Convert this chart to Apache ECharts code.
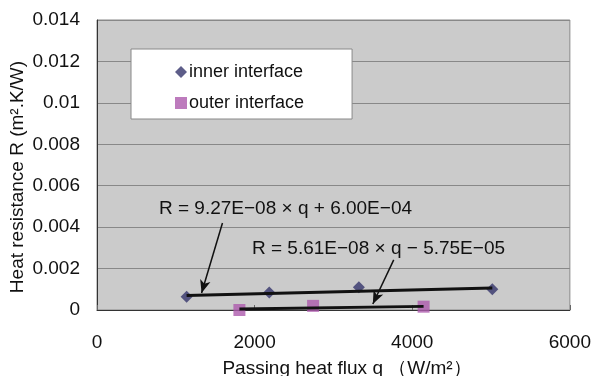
<!DOCTYPE html>
<html>
<head>
<meta charset="utf-8">
<script src="https://cdn.jsdelivr.net/npm/echarts@6/dist/echarts.min.js"></script>
<style>
  html, body { margin: 0; padding: 0; background: #fff; }
  #main { width: 594px; height: 376px; }
</style>
</head>
<body>
<div id="main"></div>
<script>
// 读图得到的数据
var innerQ = [1137, 2186, 3323, 5016];
var innerR = [0.00064, 0.00085, 0.0011, 0.0010];
var outerQ = [1807, 2742, 4144];
var outerR = [0.0000, 0.0002, 0.00016];
// 趋势线端点
var innerTrendQ = [1137, 5016];
var innerTrendR = [0.000705, 0.001065];
var outerTrendQ = [1807, 4144];
var outerTrendR = [0.000044, 0.000175];
// 刻度标签
var xTickLabels = ['0', '2000', '4000', '6000'];
var yTickLabels = ['0', '0.002', '0.004', '0.006', '0.008', '0.01', '0.012', '0.014'];
var seriesNames = ['inner interface', 'outer interface'];
var eqInner = 'R = 9.27E\u221208 \u00d7 q + 6.00E\u221204';
var eqOuter = 'R = 5.61E\u221208 \u00d7 q \u2212 5.75E\u221205';

function pairs(xs, ys) {
    var out = [];
    for (var i = 0; i < xs.length; i++) out.push([xs[i], ys[i]]);
    return out;
}

var font = 'Liberation Sans, Arial, sans-serif';
var myChart = echarts.init(document.getElementById('main'));
myChart.setOption({
    animation: false,
    backgroundColor: '#fff',
    textStyle: { fontFamily: font },
    grid: {
        left: 97, top: 20, right: 22, bottom: 66,
        show: true,
        backgroundColor: '#cbcbcb',
        borderColor: '#888',
        borderWidth: 1
    },
    legend: {
        data: [
            { name: seriesNames[0], icon: 'diamond' },
            { name: seriesNames[1], icon: 'rect' }
        ],
        orient: 'vertical',
        left: 131,
        top: 49,
        padding: [14, 48, 7, 44],
        itemWidth: 12,
        itemHeight: 12,
        itemGap: 13,
        backgroundColor: '#fff',
        borderColor: '#888',
        borderWidth: 1,
        textStyle: { fontSize: 18, color: '#111', fontFamily: font, padding: [5, 0, 0, -3] }
    },
    xAxis: {
        type: 'value',
        min: 0, max: 6000, interval: 2000,
        axisLine: { show: true, onZero: false, lineStyle: { color: '#333', width: 1 } },
        axisTick: { show: true, inside: true, length: 5, lineStyle: { color: '#666' } },
        axisLabel: {
            margin: 23, fontSize: 19, color: '#111',
            formatter: function (v) { return xTickLabels[Math.round(v / 2000)]; }
        },
        splitLine: { show: false }
    },
    yAxis: {
        type: 'value',
        min: 0, max: 0.014, interval: 0.002,
        axisLine: { show: true, lineStyle: { color: '#333', width: 1 } },
        axisTick: { show: false },
        axisLabel: {
            margin: 17, fontSize: 19, color: '#111',
            formatter: function (v) { return yTickLabels[Math.round(v / 0.002)]; }
        },
        splitLine: { show: true, lineStyle: { color: '#888', width: 1 } }
    },
    graphic: [
        {
            type: 'text', left: 159, top: 199,
            style: { text: eqInner, fill: '#111', font: '19px ' + font }
        },
        {
            type: 'text', left: 252, top: 239,
            style: { text: eqOuter, fill: '#111', font: '19px ' + font }
        },
        {
            type: 'text', x: 18, y: 177, rotation: Math.PI / 2,
            style: {
                text: 'Heat resistance R (m\u00b2.K/W)', font: '19px ' + font,
                fill: '#111', align: 'center', verticalAlign: 'middle'
            }
        },
        {
            type: 'text', x: 347, y: 369,
            style: {
                text: 'Passing heat flux q \uff08W/m\u00b2\uff09', font: '19px ' + font,
                fill: '#111', align: 'center', verticalAlign: 'middle'
            }
        }
    ],
    series: [
        {
            name: 'inner trend',
            type: 'line',
            data: pairs(innerTrendQ, innerTrendR),
            symbol: 'none',
            lineStyle: { color: '#111', width: 3 },
            z: 3,
            markLine: {
                silent: true,
                symbol: ['none', 'arrow'],
                symbolSize: [8, 13],
                label: { show: false },
                lineStyle: { color: '#111', width: 1.5, type: 'solid' },
                data: [[{ coord: [1592, 0.0042] }, { coord: [1327, 0.00082] }]]
            }
        },
        {
            name: 'outer trend',
            type: 'line',
            data: pairs(outerTrendQ, outerTrendR),
            symbol: 'none',
            lineStyle: { color: '#111', width: 3 },
            z: 3,
            markLine: {
                silent: true,
                symbol: ['none', 'arrow'],
                symbolSize: [8, 13],
                label: { show: false },
                lineStyle: { color: '#111', width: 1.5, type: 'solid' },
                data: [[{ coord: [3765, 0.00242] }, { coord: [3500, 0.00029] }]]
            }
        },
        {
            name: seriesNames[0],
            type: 'scatter',
            data: pairs(innerQ, innerR),
            symbol: 'diamond',
            symbolSize: 12,
            itemStyle: { color: '#34346c' },
            z: 2
        },
        {
            name: seriesNames[1],
            type: 'scatter',
            data: pairs(outerQ, outerR),
            symbol: 'rect',
            symbolSize: 12,
            itemStyle: { color: '#ad5aad' },
            z: 2
        }
    ]
});
</script>
</body>
</html>
